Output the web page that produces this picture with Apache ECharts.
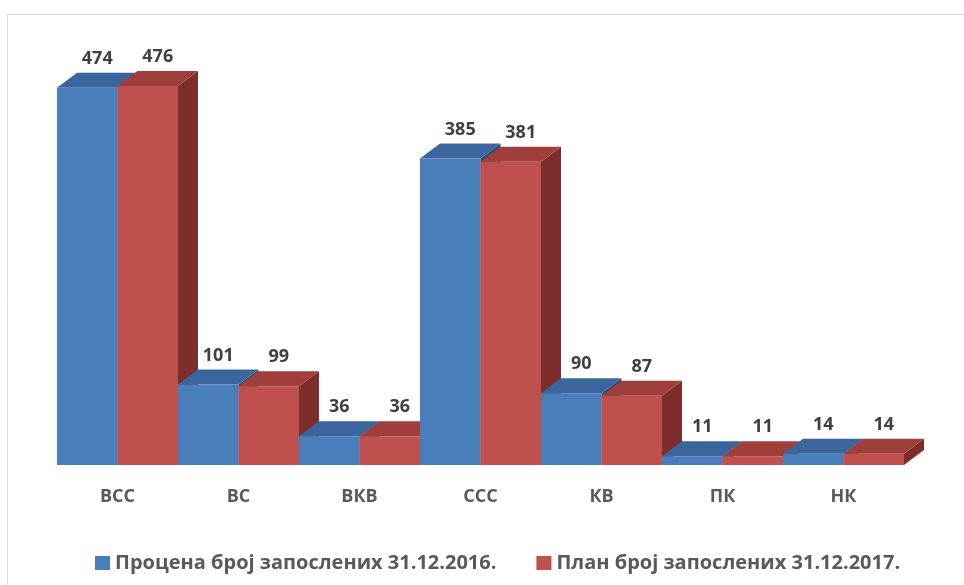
<!DOCTYPE html>
<html>
<head>
<meta charset="utf-8">
<script src="https://cdn.jsdelivr.net/npm/echarts@6/dist/echarts.min.js"></script>
<style>
  html, body { margin: 0; padding: 0; background: #fff; }
  #chart { width: 964px; height: 585px; }
</style>
</head>
<body>
<div id="chart"></div>
<script>
const categories = ['ВСС', 'ВС', 'ВКВ', 'ССС', 'КВ', 'ПК', 'НК'];
const estimate2016 = [474, 101, 36, 385, 90, 11, 14];
const plan2017 = [476, 99, 36, 381, 87, 11, 14];
const seriesNames = ['Процена број запослених 31.12.2016.', 'План број запослених 31.12.2017.'];

// front / top / side colours for each series
const blueFaces = ['#4a7ebb', '#3a669d', '#2c4d75'];
const redFaces = ['#c0504d', '#a03e3c', '#7d2d2b'];
const DX = 20, DY = -15;

const chart = echarts.init(document.getElementById('chart'));

function barFaces(x, yTop, yBase, w, faces, z) {
  return [
    {
      type: 'polygon', z2: z,
      shape: { points: [[x + w, yTop], [x + w + DX, yTop + DY], [x + w + DX, yBase + DY], [x + w, yBase]] },
      style: { fill: faces[2] }
    },
    {
      type: 'polygon', z2: z + 1,
      shape: { points: [[x, yTop], [x + w, yTop], [x + w + DX, yTop + DY], [x + DX, yTop + DY]] },
      style: { fill: faces[1] }
    },
    {
      type: 'rect', z2: z + 2,
      shape: { x: x, y: yTop, width: w, height: yBase - yTop },
      style: { fill: faces[0] }
    }
  ];
}

function label(x, y, val, z) {
  return {
    type: 'text', z2: z,
    style: {
      x: x, y: y, text: String(val),
      fill: '#404040', font: 'bold 18px "Open Sans"',
      align: 'center', verticalAlign: 'bottom'
    }
  };
}

function renderItem(params, api) {
  const idx = api.value(0);
  const v1 = api.value(1);
  const v2 = api.value(2);
  const base = api.coord([idx, 0]);
  const band = api.size([1, 0])[0];
  const w = band / 2;
  const x0 = base[0] - band / 2;
  const y1 = api.coord([idx, v1])[1];
  const y2 = api.coord([idx, v2])[1];
  const z = idx * 20;
  let children = [];
  children = children.concat(barFaces(x0, y1, base[1], w, blueFaces, z));
  children = children.concat(barFaces(x0 + w, y2, base[1], w, redFaces, z + 5));
  children.push(label(x0 + w / 2 + DX / 2, y1 + DY - 5, v1, 500));
  children.push(label(x0 + w * 1.5 + DX / 2, y2 + DY - 5, v2, 500));
  return { type: 'group', children: children };
}

const option = {
  backgroundColor: '#ffffff',
  animation: false,
  graphic: [{
    type: 'rect', left: 5, top: 12,
    shape: { width: 980, height: 600 },
    style: { fill: 'none', stroke: '#d9d9d9', lineWidth: 1 }
  }],
  legend: {
    left: 90,
    top: 548,
    itemWidth: 15,
    itemHeight: 14,
    itemGap: 40,
    icon: 'rect',
    data: seriesNames,
    textStyle: { color: '#595959', fontSize: 20, fontWeight: 'bold', fontFamily: 'Open Sans' }
  },
  grid: { left: 57, right: 60, top: 67, bottom: 120 },
  xAxis: {
    type: 'category',
    data: categories,
    axisLine: { show: false },
    axisTick: { show: false },
    axisLabel: { margin: 23, color: '#595959', fontSize: 18, fontWeight: 'bold', fontFamily: 'Open Sans' }
  },
  yAxis: {
    type: 'value', min: 0, max: 500,
    show: false,
    splitLine: { show: false }
  },
  series: [
    { name: seriesNames[0], type: 'bar', data: [], itemStyle: { color: blueFaces[0] } },
    { name: seriesNames[1], type: 'bar', data: [], itemStyle: { color: redFaces[0] } },
    {
      type: 'custom',
      renderItem: renderItem,
      encode: { x: 0, y: [1, 2] },
      data: categories.map((c, i) => [i, estimate2016[i], plan2017[i]])
    }
  ]
};

chart.setOption(option);
</script>
</body>
</html>
